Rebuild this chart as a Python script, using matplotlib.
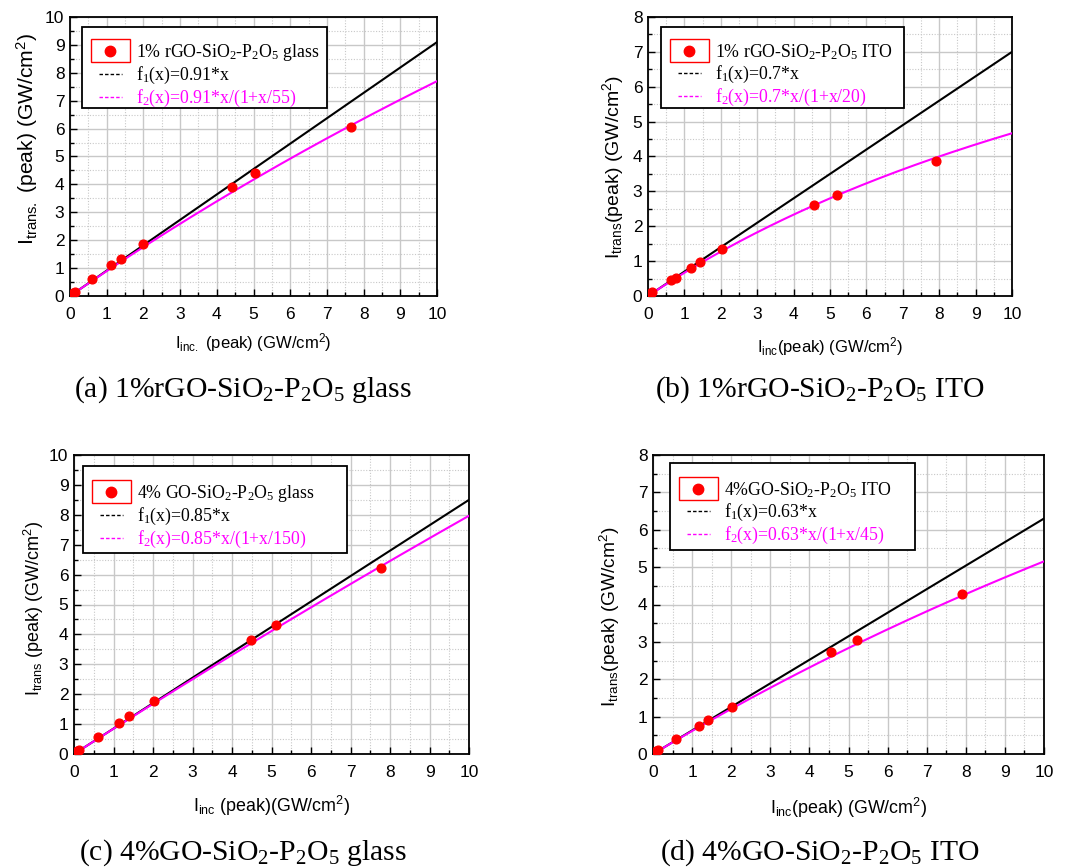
import matplotlib
matplotlib.use('Agg')
import matplotlib.pyplot as plt
import numpy as np
from matplotlib.legend_handler import HandlerBase
from matplotlib.patches import Rectangle
from matplotlib.lines import Line2D

plt.rcParams['mathtext.default'] = 'regular'
plt.rcParams['font.family'] = 'Liberation Sans'

# ── Data ─────────────────────────────────────────────────────────────────────
x_a = [0.08, 0.13, 0.6, 1.13, 1.38, 1.98, 4.42, 5.05, 7.65]
y_a = [0.10, 0.15, 0.6, 1.10, 1.33, 1.88, 3.90, 4.42, 6.07]

x_b = [0.08, 0.12, 0.62, 0.78, 1.18, 1.42, 2.03, 4.55, 5.20, 7.90]
y_b = [0.08, 0.11, 0.45, 0.52, 0.80, 0.97, 1.35, 2.62, 2.90, 3.87]

x_c = [0.08, 0.12, 0.6, 1.15, 1.40, 2.02, 4.47, 5.12, 7.78]
y_c = [0.10, 0.13, 0.57, 1.03, 1.27, 1.78, 3.82, 4.32, 6.23]

x_d = [0.08, 0.12, 0.6, 1.17, 1.41, 2.03, 4.55, 5.22, 7.90]
y_d = [0.08, 0.10, 0.41, 0.74, 0.90, 1.27, 2.73, 3.06, 4.28]

# fit parameters: slope a, saturation b  -> f1 = a*x, f2 = a*x/(1+x/b)
slopes = [0.91, 0.7, 0.85, 0.63]
sats   = [55, 20, 150, 45]

samples  = ['1% rGO-SiO$_2$-P$_2$O$_5$ glass', '1% rGO-SiO$_2$-P$_2$O$_5$ ITO',
            '4% GO-SiO$_2$-P$_2$O$_5$ glass', '4%GO-SiO$_2$-P$_2$O$_5$ ITO']
f1_labels = ['f$_1$(x)=0.91*x', 'f$_1$(x)=0.7*x', 'f$_1$(x)=0.85*x', 'f$_1$(x)=0.63*x']
f2_labels = ['f$_2$(x)=0.91*x/(1+x/55)', 'f$_2$(x)=0.7*x/(1+x/20)',
             'f$_2$(x)=0.85*x/(1+x/150)', 'f$_2$(x)=0.63*x/(1+x/45)']
ymaxes   = [10, 8, 10, 8]
xlabels  = ['I$_{inc.}$ (peak) (GW/cm$^2$)', 'I$_{inc}$(peak) (GW/cm$^2$)',
            'I$_{inc}$ (peak)(GW/cm$^2$)', 'I$_{inc}$(peak) (GW/cm$^2$)']
ylabels  = ['I$_{trans.}$ (peak) (GW/cm$^2$)', 'I$_{trans}$(peak) (GW/cm$^2$)',
            'I$_{trans}$ (peak) (GW/cm$^2$)', 'I$_{trans}$(peak) (GW/cm$^2$)']
captions = ['(a) 1%rGO-SiO$_2$-P$_2$O$_5$ glass', '(b) 1%rGO-SiO$_2$-P$_2$O$_5$ ITO',
            '(c) 4%GO-SiO$_2$-P$_2$O$_5$ glass', '(d) 4%GO-SiO$_2$-P$_2$O$_5$ ITO']

xs = [x_a, x_b, x_c, x_d]
ys = [y_a, y_b, y_c, y_d]

# ── Layout (pixels) ──────────────────────────────────────────────────────────
W, H = 1065, 867
# left, top, right, bottom of each axes box
boxes   = [(70, 17, 437, 296), (648, 17, 1012, 296),
           (74, 455, 469, 754), (653, 455, 1044, 754)]
# legend frames (left, top, right, bottom) and where the entries start
legbox  = [(82, 27, 327, 108), (661, 27, 904, 108),
           (83, 466, 347, 553), (670, 463, 915, 550)]
legtop  = [33, 33, 474, 471]
cappos  = [(243, 390), (820, 390), (243, 853), (820, 853)]
xl_size = [12, 12, 12.9, 12.9]
yl_size = [15.2, 14, 13, 13.8]
# label centres in pixels
xl_pos  = [(253, 343), (830, 347), (272, 806), (849, 808)]
yl_pos  = [(27, 139), (613, 167), (34, 608), (610, 617)]


class BoxDot(HandlerBase):
    # Origin style: red dot inside a red frame
    def create_artists(self, legend, orig, xd, yd, w, h, fs, trans):
        rect = Rectangle((-xd, -yd - 0.4 * h), w, h * 1.8, fill=False,
                         ec='red', lw=1.0, transform=trans)
        dot = Line2D([-xd + w / 2], [-yd + h / 2], marker='o', ls='none',
                     color='red', ms=7.5, transform=trans)
        return [rect, dot]


class ShortDash(HandlerBase):
    def create_artists(self, legend, orig, xd, yd, w, h, fs, trans):
        ln = Line2D([-xd + 0.2 * w, -xd + 0.8 * w], [-yd + h / 2] * 2,
                    color=orig.get_color(), ls=(0, (2.5, 1.5)), lw=1.0,
                    transform=trans)
        return [ln]


fig = plt.figure(figsize=(W / 100, H / 100), dpi=100)
xfit = np.linspace(0, 10, 200)

for i in range(4):
    l, t, r, b = boxes[i]
    ax = fig.add_axes([l / W, 1 - b / H, (r - l) / W, (b - t) / H])
    a, s = slopes[i], sats[i]

    ax.plot(xfit, a * xfit, color='black', lw=1.5, zorder=3)
    ax.plot(xfit, a * xfit / (1 + xfit / s), color='magenta', lw=1.5, zorder=3)
    ax.plot(xs[i], ys[i], 'o', color='red', ms=6.3, zorder=4)

    ax.set_xlim(0, 10)
    ax.set_ylim(0, ymaxes[i])
    ax.set_xticks(range(0, 11))
    ax.set_yticks(range(0, ymaxes[i] + 1))
    ax.set_xticks(np.arange(0.5, 10, 1), minor=True)
    ax.set_yticks(np.arange(0.5, ymaxes[i], 1), minor=True)
    ax.tick_params(which='both', direction='in', top=False, right=False,
                   labelsize=12.5, width=1.0)
    ax.tick_params(which='major', length=5)
    ax.tick_params(which='minor', length=3)
    ax.tick_params(axis='x', which='major', pad=8)
    ax.tick_params(axis='y', which='major', pad=4)
    ax.grid(which='major', color='#c8c8c8', lw=1.0)
    ax.grid(which='minor', color='#c8c8c8', lw=0.8, ls=(0, (1, 1.5)))
    ax.set_axisbelow(True)
    for sp in ax.spines.values():
        sp.set_linewidth(1.3)

    ax.set_xlabel(xlabels[i], fontsize=xl_size[i], va='center')
    ax.set_ylabel(ylabels[i], fontsize=yl_size[i], va='center')
    px, py = xl_pos[i]
    ax.xaxis.set_label_coords((px - l) / (r - l), (b - py) / (b - t))
    px, py = yl_pos[i]
    ax.yaxis.set_label_coords((px - l) / (r - l), (b - py) / (b - t))

    # legend frame drawn by hand so the padding can follow the original
    fl, ft, fr, fb = legbox[i]
    ax.add_patch(Rectangle((fl / W, 1 - fb / H), (fr - fl) / W, (fb - ft) / H,
                           transform=fig.transFigure, fc='white', ec='black',
                           lw=1.3, zorder=4.5, clip_on=False))

    h_pts = Line2D([], [], color='red', marker='o', ls='none')
    h_f1 = Line2D([], [], color='black')
    h_f2 = Line2D([], [], color='magenta')
    leg = ax.legend([h_pts, h_f1, h_f2], [samples[i], f1_labels[i], f2_labels[i]],
                    handler_map={h_pts: BoxDot(), h_f1: ShortDash(), h_f2: ShortDash()},
                    loc='upper left', bbox_to_anchor=(fl / W, 1 - legtop[i] / H),
                    bbox_transform=fig.transFigure, borderaxespad=0,
                    prop={'family': 'Liberation Serif', 'size': 12.8},
                    frameon=False, handlelength=2.2, handletextpad=0.35,
                    labelspacing=0.12, borderpad=0.5)
    leg.get_texts()[2].set_color('magenta')

    cx, cy = cappos[i]
    fig.text(cx / W, 1 - cy / H, captions[i], ha='center', va='center',
             fontsize=21.3, family='Liberation Serif')

fig.savefig('out.png', dpi=100)
